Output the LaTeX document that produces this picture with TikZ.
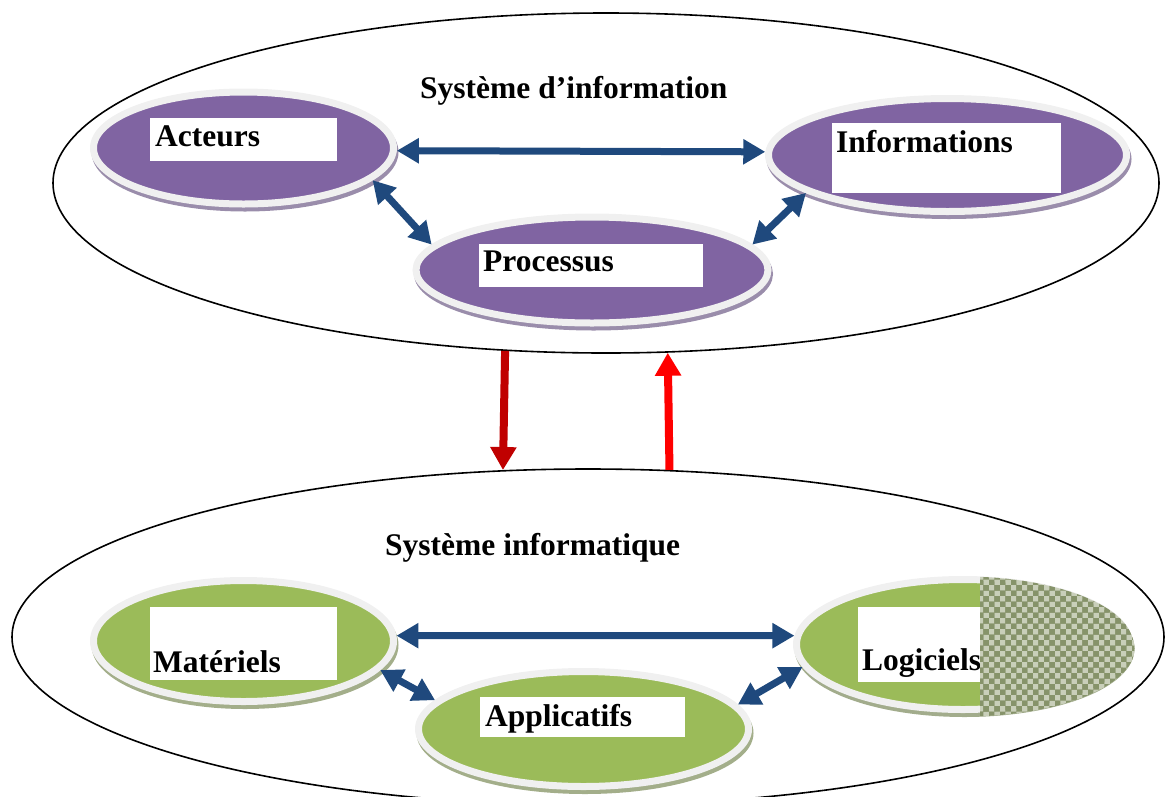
\documentclass[tikz,border=0pt]{standalone}
\usepackage{fontspec}
\setmainfont{Liberation Serif}
\usetikzlibrary{shapes.geometric,arrows.meta,patterns}

\definecolor{purp}{HTML}{8064A2}
\definecolor{grn}{HTML}{9BBB59}
\definecolor{ringgray}{HTML}{F0F0F0}
\definecolor{purpshadow}{HTML}{9A8DAB}
\definecolor{grnshadow}{HTML}{A3AE8A}
\definecolor{logshadow}{HTML}{A2AC8C}
\definecolor{linkblue}{HTML}{1F497D}
\definecolor{darkred}{HTML}{C00000}
\definecolor{brightred}{HTML}{FF0000}
\definecolor{patdark}{HTML}{86936A}
\definecolor{patlight}{HTML}{C9CFBA}

\begin{document}
\begin{tikzpicture}[x=1pt,y=-1pt,
  frame/.style={ellipse, draw=black, line width=1.6pt, inner sep=0pt},
  bubble/.style={ellipse, draw=ringgray, line width=7pt, inner sep=0pt,
    preaction={draw=#1, fill=#1, transform canvas={shift={(1.5pt,-4pt)}}}},
  wbox/.style={rectangle, fill=white, inner sep=0pt},
  lbl/.style={font=\fontsize{31.5}{36}\selectfont\bfseries, inner sep=0pt, anchor=base west},
  link/.style={draw=linkblue, line width=7pt,
    {Triangle[length=22pt,width=24pt]}-{Triangle[length=22pt,width=24pt]}},
  flow/.style={line width=8pt, -{Triangle[length=23pt,width=25pt]}}
]
\useasboundingbox (0,0) rectangle (1165,796);

% the two enclosing systems
\node[frame, minimum width=1106pt, minimum height=340pt] (si) at (606,183) {};
\node[frame, minimum width=1152pt, minimum height=336pt] (sx) at (588,637) {};

\node[lbl] (tsi) at (420,98) {Système d’information};
\node[lbl] (tsx) at (385,555) {Système informatique};

% information system components
\node[bubble=purpshadow, fill=purp, minimum width=300pt, minimum height=112pt] (act) at (243.5,148) {};
\node[bubble=purpshadow, fill=purp, minimum width=358pt, minimum height=113pt] (inf) at (947.5,155) {};
\node[bubble=purpshadow, fill=purp, minimum width=352pt, minimum height=106pt] (pro) at (592,270) {};

% computer system components
\node[bubble=grnshadow, fill=grn, minimum width=300pt, minimum height=121pt] (mat) at (243.5,641) {};
\node[bubble=logshadow, fill=grn, minimum width=333pt, minimum height=130pt] (log) at (963,644.5) {};
\node[bubble=grnshadow, fill=grn, minimum width=330pt, minimum height=115pt] (app) at (583.5,729) {};

% white label boxes
\node[wbox, minimum width=187pt, minimum height=43pt] (bact) at (243.5,139.5) {};
\node[wbox, minimum width=229pt, minimum height=70pt] (binf) at (946.5,158) {};
\node[wbox, minimum width=224pt, minimum height=43pt] (bpro) at (591,265.5) {};
\node[wbox, minimum width=187pt, minimum height=73pt] (bmat) at (243.5,643.5) {};
\node[wbox, minimum width=122pt, minimum height=75pt] (blog) at (919,644.5) {};
\node[wbox, minimum width=205pt, minimum height=40pt] (bapp) at (582.5,717) {};

\node[lbl] (tact) at (155,146) {Acteurs};
\node[lbl] (tinf) at (836,152) {Informations};
\node[lbl] (tpro) at (483,271) {Processus};
\node[lbl] (tmat) at (153,672) {Matériels};
\node[lbl] (tlog) at (862,670) {Logiciels};
\node[lbl] (tapp) at (485,726) {Applicatifs};

% dotted overlay on the right part of the software bubble
\begin{scope}
  \clip (980,560) rectangle (1150,730);
  \fill[patlight] (log.center) ellipse [x radius=170pt, y radius=68pt];
  \fill[patlight] ([shift={(1.5pt,-4pt)}]log.center) ellipse [x radius=170pt, y radius=68pt];
  \fill[pattern=checkerboard, pattern color=patdark] (log.center) ellipse [x radius=170pt, y radius=68pt];
  \fill[pattern=checkerboard, pattern color=patdark] ([shift={(1.5pt,-4pt)}]log.center) ellipse [x radius=170pt, y radius=68pt];
\end{scope}

% relations inside each system
\draw[link] (act.-1) -- (inf.179);
\draw[link] (act.-14) -- (pro.171);
\draw[link] (inf.195) -- (pro.9);
\draw[link] (mat.2) -- (log.177);
\draw[link] (mat.-12) -- (app.169);
\draw[link] (app.9) -- (log.188);

% exchanges between the two systems
\draw[flow, darkred] (si.-121.7) -- (sx.117.1);
\draw[flow, brightred] (sx.64.6) -- (si.-70.2);
\end{tikzpicture}
\end{document}
